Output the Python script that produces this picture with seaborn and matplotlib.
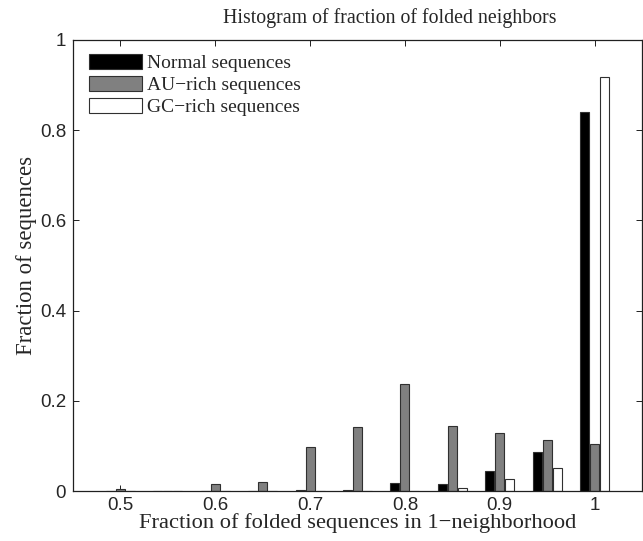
import matplotlib
matplotlib.use("Agg")
import matplotlib.pyplot as plt
from matplotlib.patches import Patch
import numpy as np
import pandas as pd
import seaborn as sns

# Histogram bin centres (fraction of folded 1-neighbours)
bins = [0.5, 0.55, 0.6, 0.65, 0.7, 0.75, 0.8, 0.85, 0.9, 0.95, 1.0]
normal = [0.0, 0.0, 0.0, 0.0, 0.002, 0.002, 0.017, 0.015, 0.045, 0.086, 0.840]
au_rich = [0.004, 0.0, 0.016, 0.021, 0.098, 0.141, 0.238, 0.145, 0.129, 0.112, 0.105]
gc_rich = [0.0, 0.0, 0.0, 0.0, 0.0, 0.0, 0.001, 0.007, 0.027, 0.052, 0.917]

series_names = ["Normal sequences", "AU\u2212rich sequences", "GC\u2212rich sequences"]
series_colors = ["#000000", "#808080", "#ffffff"]
x_ticks = [0.5, 0.6, 0.7, 0.8, 0.9, 1.0]
x_ticklabels = ["0.5", "0.6", "0.7", "0.8", "0.9", "1"]
y_ticks = [0, 0.2, 0.4, 0.6, 0.8, 1.0]
y_ticklabels = ["0", "0.2", "0.4", "0.6", "0.8", "1"]

df = pd.DataFrame({
    "bin": bins * 3,
    "frac": normal + au_rich + gc_rich,
    "kind": sum([[n] * len(bins) for n in series_names], []),
})

sns.set_theme(style="white")
plt.rcParams["font.family"] = ["Liberation Sans", "DejaVu Sans"]

fig = plt.figure(figsize=(6.43, 5.41), dpi=100)
ax = fig.add_axes([73 / 643, 50 / 541, (642 - 73) / 643, (491 - 40) / 541])

sns.barplot(
    data=df, x="bin", y="frac", hue="kind", hue_order=series_names,
    palette=dict(zip(series_names, series_colors)),
    native_scale=True, width=0.63, gap=0.1, dodge=True,
    errorbar=None, saturation=1, edgecolor="#303030", linewidth=0.8,
    legend=False, ax=ax,
)

ax.set_xlim(0.45, 1.05)
ax.set_ylim(0, 1)
ax.set_xticks(x_ticks)
ax.set_xticklabels(x_ticklabels, fontsize=13.5)
ax.set_yticks(y_ticks)
ax.set_yticklabels(y_ticklabels, fontsize=13.5)
ax.tick_params(direction="in", length=4.5, width=0.7, color="#202020",
               top=True, right=True, bottom=True, left=True, pad=4)
ax.tick_params(axis="y", pad=5)
for s in ax.spines.values():
    s.set_visible(True)
    s.set_color("#202020")
    s.set_linewidth(0.9)

serif = ["Liberation Serif", "DejaVu Serif"]
ax.set_title("Histogram of fraction of folded neighbors", family=serif, fontsize=14.3,
             pad=12, x=0.557)
ax.set_xlabel("Fraction of folded sequences in 1\u2212neighborhood", family=serif, fontsize=16.2, labelpad=0)
ax.set_ylabel("Fraction of sequences", family=serif, fontsize=16.4)
ax.yaxis.set_label_coords(-0.064, 0.523)

handles = [Patch(facecolor=c, edgecolor="#303030", linewidth=0.8) for c in series_colors]
ax.legend(handles, series_names, loc="upper left", frameon=False,
          prop={"family": serif, "size": 14}, handlelength=2.73, handleheight=0.82,
          handletextpad=0.25, labelspacing=0.2, borderaxespad=0.3,
          bbox_to_anchor=(2 / 569, 1.0))

fig.savefig("out.png", dpi=100)
